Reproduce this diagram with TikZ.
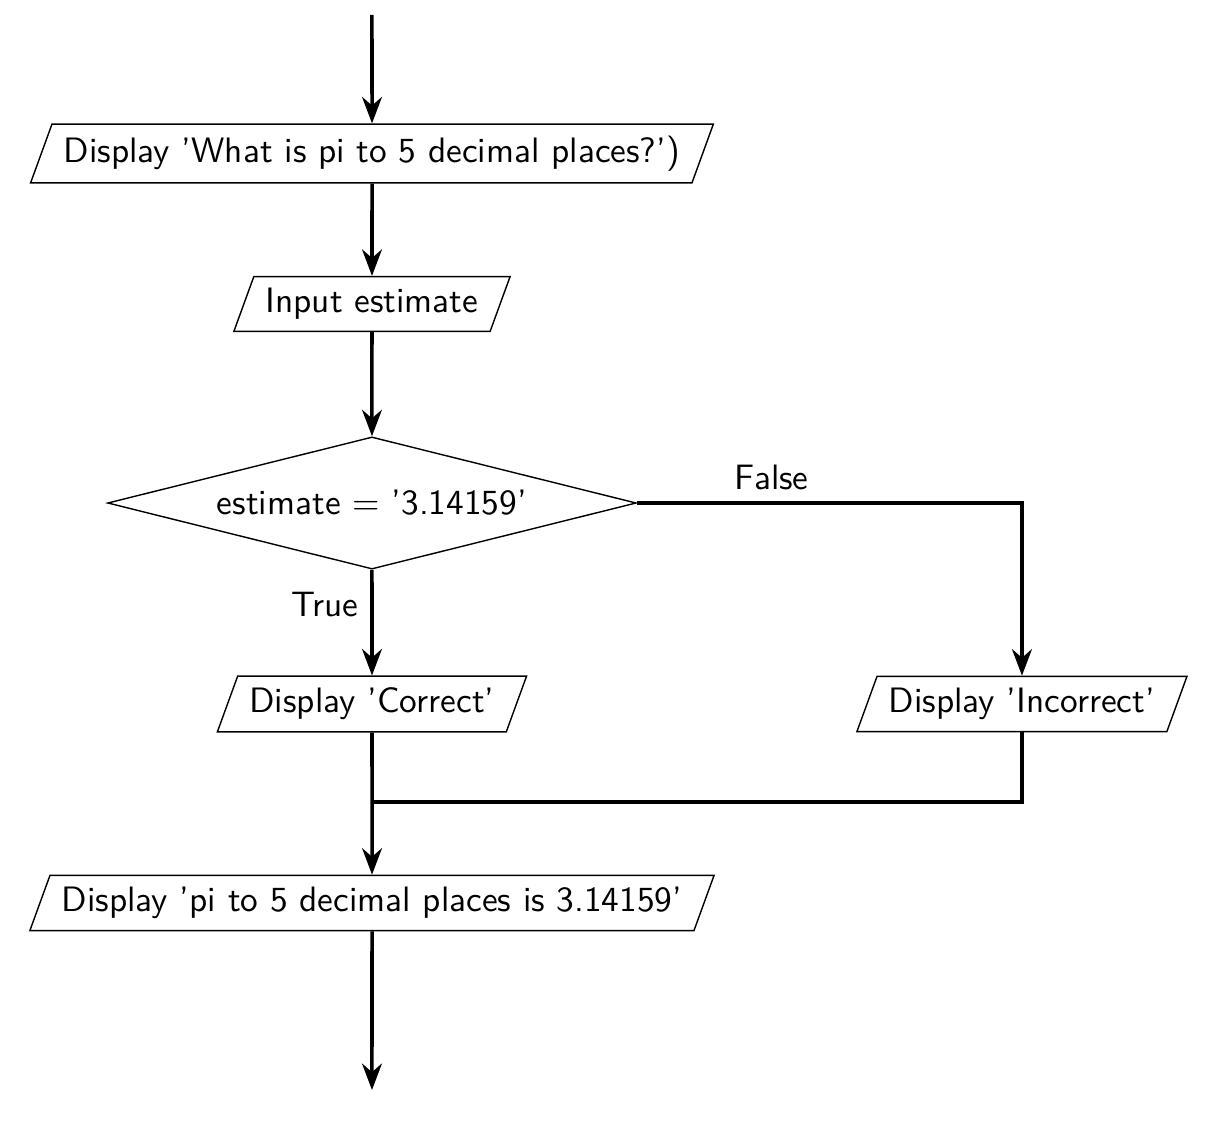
\documentclass[tikz,border=0pt]{standalone}
\usetikzlibrary{shapes.geometric,arrows.meta,positioning}
\begin{document}
\begin{tikzpicture}[
    font=\sffamily,
    io/.style={trapezium, trapezium left angle=70, trapezium right angle=110, draw},
    decision/.style={diamond, aspect=4, draw},
    line/.style={line width=1pt},
    flow/.style={line, -Stealth}
]
    \useasboundingbox (0,0) rectangle (12.102,-11.215);

    % start and end of the flow
    \coordinate (start) at (3.705,-0.149);
    \coordinate (stop) at (3.705,-10.857);

    % boxes
    \node[io] (ask) at (3.705,-1.529) {Display 'What is pi to 5 decimal places?')};
    \node[io] (input) at (3.705,-3.028) {Input estimate};
    \node[decision] (check) at (3.705,-5.010) {estimate = '3.14159'};
    \node[io] (correct) at (3.705,-7.012) {Display 'Correct'};
    \node[io] (incorrect) at (10.179,-7.012) {Display 'Incorrect'};
    \node[io] (answer) at (3.705,-8.994) {Display 'pi to 5 decimal places is 3.14159'};
    \coordinate (join) at (3.705,-7.988);

    % arrows
    \draw[flow] (start) -- (ask);
    \draw[flow] (ask) -- (input);
    \draw[flow] (input) -- (check);
    \draw[flow] (check) -- node[left, pos=0.33] {True} (correct);
    \draw[flow] (check.east) -- node[above, pos=0.35] {False} (check.east -| incorrect.north) -- (incorrect.north);
    \draw[line] (incorrect.south) |- (join);
    \draw[flow] (correct) -- (answer);
    \draw[flow] (answer) -- (stop);
\end{tikzpicture}
\end{document}
